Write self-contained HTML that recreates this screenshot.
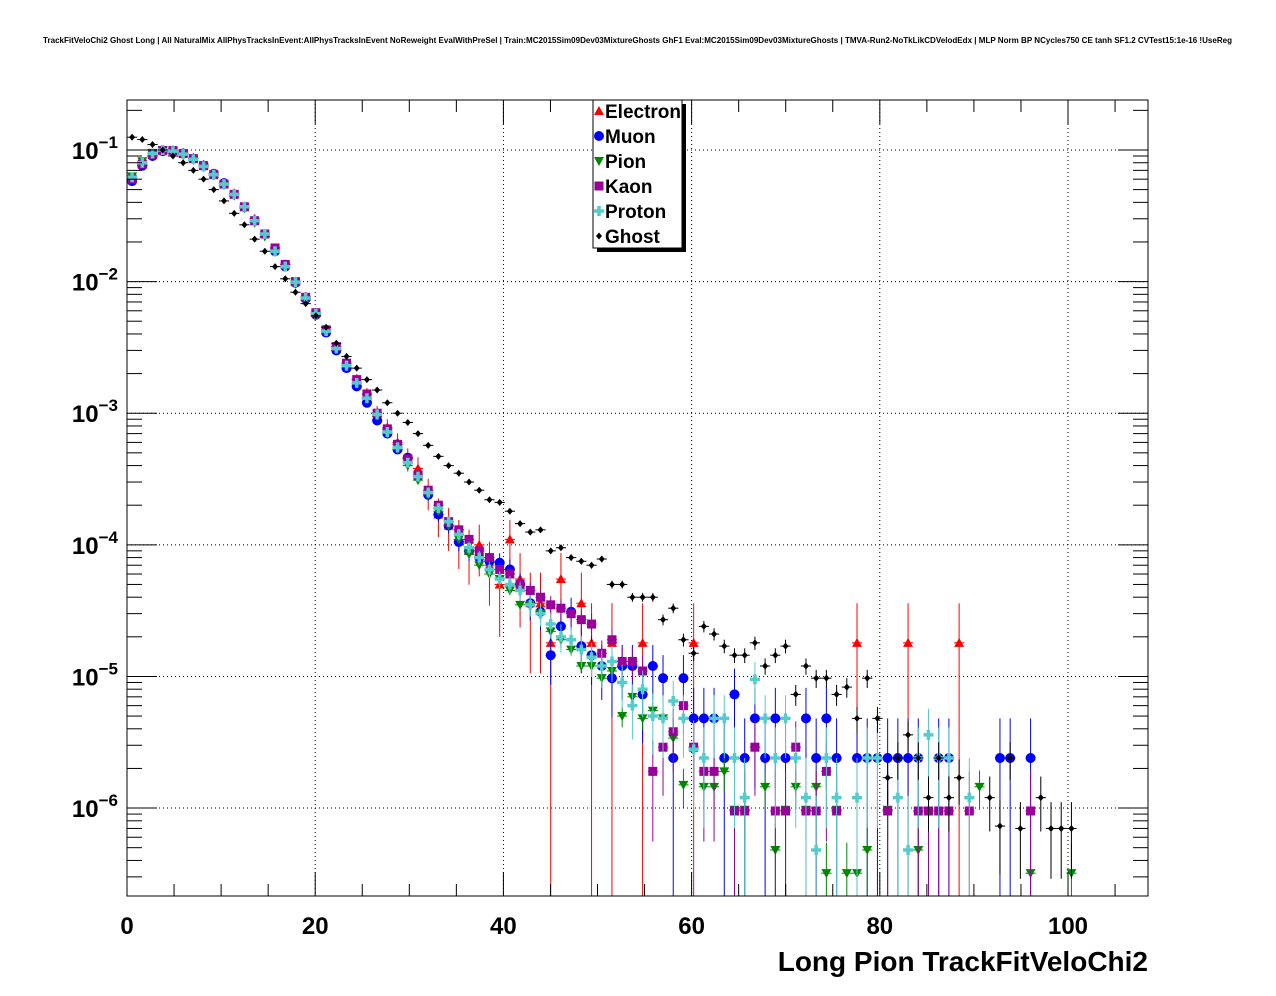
<!DOCTYPE html>
<html><head><meta charset="utf-8"><style>
html,body{margin:0;padding:0;background:#fff;}
svg{display:block;font-family:"Liberation Sans",Arial,sans-serif;}
</style></head><body>
<svg id="chart" width="1276" height="996" viewBox="0 0 1276 996" xmlns="http://www.w3.org/2000/svg">
<rect x="0" y="0" width="1276" height="996" fill="#fff"/>
<text x="43" y="43" font-size="8" font-weight="bold" textLength="1189" lengthAdjust="spacingAndGlyphs">TrackFitVeloChi2 Ghost Long | All NaturalMix AllPhysTracksInEvent:AllPhysTracksInEvent NoReweight EvalWithPreSel | Train:MC2015Sim09Dev03MixtureGhosts GhF1 Eval:MC2015Sim09Dev03MixtureGhosts | TMVA-Run2-NoTkLikCDVelodEdx | MLP Norm BP NCycles750 CE tanh SF1.2 CVTest15:1e-16 !UseReg</text>
<g id="grid"></g>
<g id="marks"></g>
<rect x="127" y="100" width="1021" height="796" fill="none" stroke="#000" stroke-width="1"/>
<g id="axes"></g>
<text x="1148" y="971" font-size="28" font-weight="bold" text-anchor="end">Long Pion TrackFitVeloChi2</text>
<g>
<rect x="597" y="104" width="89" height="148" fill="#000"/>
<rect x="593" y="100" width="89" height="148" fill="#fff" stroke="#000" stroke-width="1"/>
<g id="legend-entries"></g>
</g>
</svg>
<script>
const binWidth = 1.085;
const electron = [0.06,0.078,0.092,0.1,0.1,0.095,0.087,0.077,0.066,0.056,0.047,0.037,0.03,0.023,0.018,0.0135,0.01,0.0077,0.0058,0.0043,0.0032,0.0023,0.0018,0.0014,0.001,7.8e-4,6e-4,4.5e-4,3.8e-4,2.5e-4,1.7e-4,1.4e-4,1.1e-4,9e-5,1e-4,7e-5,5e-5,1.1e-4,5.5e-5,3.6e-5,3.6e-5,1.8e-5,5.5e-5,null,3.6e-5,1.8e-5,null,1.8e-5,null,null,1.8e-5,null,null,null,null,1.8e-5,null,null,null,null,null,null,null,null,null,null,null,null,null,null,null,1.8e-5,null,null,null,null,1.8e-5,null,null,null,null,1.8e-5];
const muon = [0.058,0.076,0.09,0.098,0.098,0.094,0.086,0.076,0.066,0.056,0.046,0.037,0.029,0.023,0.017,0.013,0.0098,0.0074,0.0056,0.0041,0.003,0.0022,0.0016,0.0012,8.8e-4,7e-4,5.3e-4,4.6e-4,3.3e-4,2.4e-4,1.7e-4,1.4e-4,1.05e-4,9e-5,8e-5,7.5e-5,7.3e-5,6.5e-5,5e-5,3.6e-5,3.1e-5,1.45e-5,2.4e-5,3.1e-5,1.7e-5,1.45e-5,1.2e-5,9.7e-6,1.2e-5,1.2e-5,7.3e-6,1.2e-5,9.7e-6,2.4e-6,9.7e-6,4.8e-6,4.8e-6,4.8e-6,2.4e-6,7.3e-6,2.4e-6,4.8e-6,2.4e-6,4.8e-6,2.4e-6,null,4.8e-6,2.4e-6,4.8e-6,2.4e-6,null,2.4e-6,2.4e-6,2.4e-6,2.4e-6,2.4e-6,2.4e-6,2.4e-6,null,2.4e-6,2.4e-6,null,null,null,null,2.4e-6,2.4e-6,null,2.4e-6];
const pion = [0.063,0.082,0.095,0.1,0.097,0.092,0.084,0.074,0.064,0.054,0.045,0.036,0.028,0.022,0.017,0.013,0.0096,0.0072,0.0056,0.0042,0.0031,0.0023,0.0017,0.0013,9.5e-4,7e-4,5.3e-4,4e-4,3.1e-4,2.4e-4,1.8e-4,1.4e-4,1.1e-4,8.5e-5,7e-5,6e-5,5.5e-5,4.5e-5,3.5e-5,3.5e-5,3e-5,2.2e-5,1.9e-5,1.6e-5,1.2e-5,1.2e-5,9.7e-6,1.1e-5,5e-6,7e-6,4.8e-6,5.5e-6,4.8e-6,3.4e-6,1.5e-6,null,1.45e-6,1.45e-6,1.9e-6,9.7e-7,9.7e-7,null,1.45e-6,4.8e-7,9.7e-7,1.45e-6,9.7e-7,1.45e-6,3.2e-7,9.7e-7,3.2e-7,3.2e-7,4.8e-7,null,9.7e-7,null,null,4.8e-7,null,null,null,null,null,1.45e-6,null,null,null,null,3.2e-7,null,null,null,3.2e-7];
const kaon = [0.06,0.078,0.092,0.099,0.099,0.094,0.086,0.076,0.065,0.055,0.046,0.037,0.029,0.023,0.018,0.0135,0.01,0.0076,0.0058,0.0043,0.0032,0.0024,0.0018,0.0014,0.001,7.6e-4,5.8e-4,4.5e-4,3.4e-4,2.6e-4,2e-4,1.5e-4,1.3e-4,1.1e-4,9e-5,8e-5,6.5e-5,6e-5,5e-5,4.5e-5,4e-5,3.5e-5,3.3e-5,3e-5,2.7e-5,2.5e-5,1.5e-5,1.9e-5,1.3e-5,1.3e-5,1.1e-5,1.9e-6,2.9e-6,3.8e-6,6e-6,2.9e-6,1.9e-6,1.9e-6,null,9.5e-7,9.5e-7,2.9e-6,null,9.5e-7,9.5e-7,2.9e-6,9.5e-7,9.5e-7,1.9e-6,9.5e-7,null,null,null,null,9.5e-7,null,null,9.5e-7,9.5e-7,9.5e-7,9.5e-7,null,9.5e-7,null,null,null,null,null,9.5e-7];
const proton = [0.062,0.08,0.094,0.1,0.098,0.093,0.085,0.075,0.065,0.055,0.046,0.037,0.029,0.023,0.017,0.013,0.0099,0.0075,0.0057,0.0042,0.0031,0.0023,0.0017,0.0013,9.8e-4,7.2e-4,5.5e-4,4.2e-4,3.3e-4,2.5e-4,1.9e-4,1.5e-4,1.2e-4,9.5e-5,8e-5,6.5e-5,5.5e-5,5e-5,4.5e-5,3.5e-5,3e-5,2.5e-5,2e-5,1.9e-5,1.6e-5,1.4e-5,1.2e-5,1.3e-5,9e-6,6e-6,8e-6,5e-6,4.8e-6,6.5e-6,4.8e-6,2.8e-6,2.4e-6,4.8e-6,4.8e-6,2.4e-6,1.2e-6,9.5e-6,4.8e-6,2.4e-6,4.8e-6,2.4e-6,1.2e-6,4.8e-7,2.4e-6,1.2e-6,null,1.2e-6,2.4e-6,2.4e-6,null,1.2e-6,4.8e-7,2.4e-6,3.6e-6,2.4e-6,2.4e-6,null,1.2e-6];
const ghost = [0.125,0.12,0.11,0.1,0.09,0.08,0.07,0.06,0.05,0.041,0.033,0.027,0.021,0.017,0.013,0.0105,0.0083,0.0068,0.0055,0.0045,0.0034,0.0027,0.0022,0.0018,0.0015,0.0012,0.001,8.5e-4,7e-4,5.7e-4,4.7e-4,4e-4,3.5e-4,3e-4,2.6e-4,2.2e-4,2.1e-4,1.8e-4,1.45e-4,1.25e-4,1.3e-4,9e-5,9.5e-5,8e-5,7.5e-5,7e-5,7.8e-5,5e-5,5e-5,4e-5,4e-5,4e-5,2.7e-5,3.3e-5,1.9e-5,1.5e-5,2.4e-5,2.1e-5,1.7e-5,1.45e-5,1.45e-5,1.8e-5,1.2e-5,1.45e-5,1.7e-5,7.3e-6,1.2e-5,9.7e-6,9.7e-6,7.3e-6,8.3e-6,4.8e-6,9.7e-6,4.8e-6,1.7e-6,2.4e-6,3.6e-6,2.4e-6,1.2e-6,2.4e-6,1.2e-6,1.7e-6,null,null,1.2e-6,7.3e-7,2.4e-6,7e-7,null,1.2e-6,7e-7,7e-7,7e-7];
const seriesNames = ["Electron","Muon","Pion","Kaon","Proton","Ghost"];
const seriesData = [electron,muon,pion,kaon,proton,ghost];
const seriesUnit = [1.8e-5,2.4e-6,1.6e-7,9.5e-7,1.2e-6,2.4e-7];
const seriesColor = ["#ff0000","#0000ff","#008800","#990099","#55cccc","#000000"];
const seriesShape = ["tri-up","circle","tri-down","square","cross","diamond"];
const xTicks = [0,20,40,60,80,100];
const yDecades = [-1,-2,-3,-4,-5,-6];

const L=127,R=1148,T=100,B=896, XMAX=108.5;
const LOGTOP=-1+50/131.7, LOGBOT=-6-88/131.7;
const NS="http://www.w3.org/2000/svg";
function xs(v){return L+(v/XMAX)*(R-L);}
function ys(v){const l=Math.log10(v);return T+(LOGTOP-l)/(LOGTOP-LOGBOT)*(B-T);}
function mk(tag,attrs,parent){const e=document.createElementNS(NS,tag);for(const k in attrs)e.setAttribute(k,attrs[k]);parent.appendChild(e);return e;}
const grid=document.getElementById('grid'),axes=document.getElementById('axes'),marks=document.getElementById('marks');

xTicks.forEach(t=>{
  const x=xs(t);
  if(t>0){const g=mk('line',{x1:x,x2:x,y1:T,y2:B,stroke:'#000','stroke-dasharray':'1,3','stroke-width':1},grid);
  
  }
  mk('line',{x1:x,x2:x,y1:B,y2:B-24,stroke:'#000'},axes);
  mk('line',{x1:x,x2:x,y1:T,y2:T+24,stroke:'#000'},axes);
  const tx=mk('text',{x:x,y:934,'font-size':24,'font-weight':'bold','text-anchor':'middle'},axes);
  tx.textContent=t;
  
  
});
for(let v=5;v<XMAX;v+=5){ if(v%20===0)continue; const x=xs(v);
  mk('line',{x1:x,x2:x,y1:B,y2:B-12,stroke:'#000'},axes);
  mk('line',{x1:x,x2:x,y1:T,y2:T+12,stroke:'#000'},axes);}
yDecades.forEach(d=>{
  const y=ys(Math.pow(10,d));
  const g=mk('line',{x1:L,x2:R,y1:y,y2:y,stroke:'#000','stroke-dasharray':'1,3'},grid);
  
  
  mk('line',{x1:L,x2:L+30,y1:y,y2:y,stroke:'#000'},axes);
  mk('line',{x1:R,x2:R-30,y1:y,y2:y,stroke:'#000'},axes);
  const tx=mk('text',{x:118,y:y+9,'font-size':24,'font-weight':'bold','text-anchor':'end'},axes);
  
  
  const a=document.createElementNS(NS,'tspan');a.textContent='10';tx.appendChild(a);
  const b=document.createElementNS(NS,'tspan');b.setAttribute('dy','-11');b.setAttribute('font-size','17');b.textContent=String(d).replace('-','\u2212');tx.appendChild(b);
});
for(let d=-7;d<=-1;d++){for(let m=2;m<=9;m++){const v=m*Math.pow(10,d);const y=ys(v);if(y<T||y>B)continue;
  mk('line',{x1:L,x2:L+15,y1:y,y2:y,stroke:'#000'},axes);
  mk('line',{x1:R,x2:R-15,y1:y,y2:y,stroke:'#000'},axes);}}

function marker(shape,cx,cy,c,parent){
  const s=5;
  if(shape==='tri-up')return mk('polygon',{points:`${cx},${cy-s} ${cx-s},${cy+s*0.8} ${cx+s},${cy+s*0.8}`,fill:c},parent);
  if(shape==='tri-down')return mk('polygon',{points:`${cx},${cy+s} ${cx-s},${cy-s*0.8} ${cx+s},${cy-s*0.8}`,fill:c},parent);
  if(shape==='circle')return mk('circle',{cx:cx,cy:cy,r:5,fill:c},parent);
  if(shape==='square')return mk('rect',{x:cx-4.5,y:cy-4.5,width:9,height:9,fill:c},parent);
  if(shape==='cross')return mk('path',{d:`M${cx-5},${cy}H${cx+5}M${cx},${cy-5}V${cy+5}`,stroke:c,'stroke-width':3.5},parent);
  return mk('polygon',{points:`${cx},${cy-3.5} ${cx-3},${cy} ${cx},${cy+3.5} ${cx+3},${cy}`,fill:c},parent);
}
seriesData.forEach((arr,si)=>{
  const g=mk('g',{},marks);
  
  
  const c=seriesColor[si];
  arr.forEach((v,i)=>{
    if(v===null||v===undefined)return;
    const xc=(i+0.5)*binWidth; if(xc>XMAX)return;
    const cx=xs(xc),cy=ys(v);
    const err=Math.sqrt(v*seriesUnit[si]);
    const yTop=ys(v+err); const yBot=(v-err)>Math.pow(10,LOGBOT)?ys(v-err):B;
    mk('line',{x1:cx,x2:cx,y1:yTop,y2:Math.min(yBot,B),stroke:c,'stroke-width':1},g);
    mk('line',{x1:xs(i*binWidth),x2:xs((i+1)*binWidth),y1:cy,y2:cy,stroke:c,'stroke-width':1},g);
    const m=marker(seriesShape[si],cx,cy,c,g);
    
    
  });
});
const le=document.getElementById('legend-entries');
seriesNames.forEach((n,i)=>{
  const y=111+i*25;
  const g=mk('g',{},le);
  
  
  marker(seriesShape[i],599,y,seriesColor[i],g);
  const t=mk('text',{x:605,y:y+7,'font-size':19,'font-weight':'bold'},g);
  t.textContent=n;
});
</script>
</body></html>
